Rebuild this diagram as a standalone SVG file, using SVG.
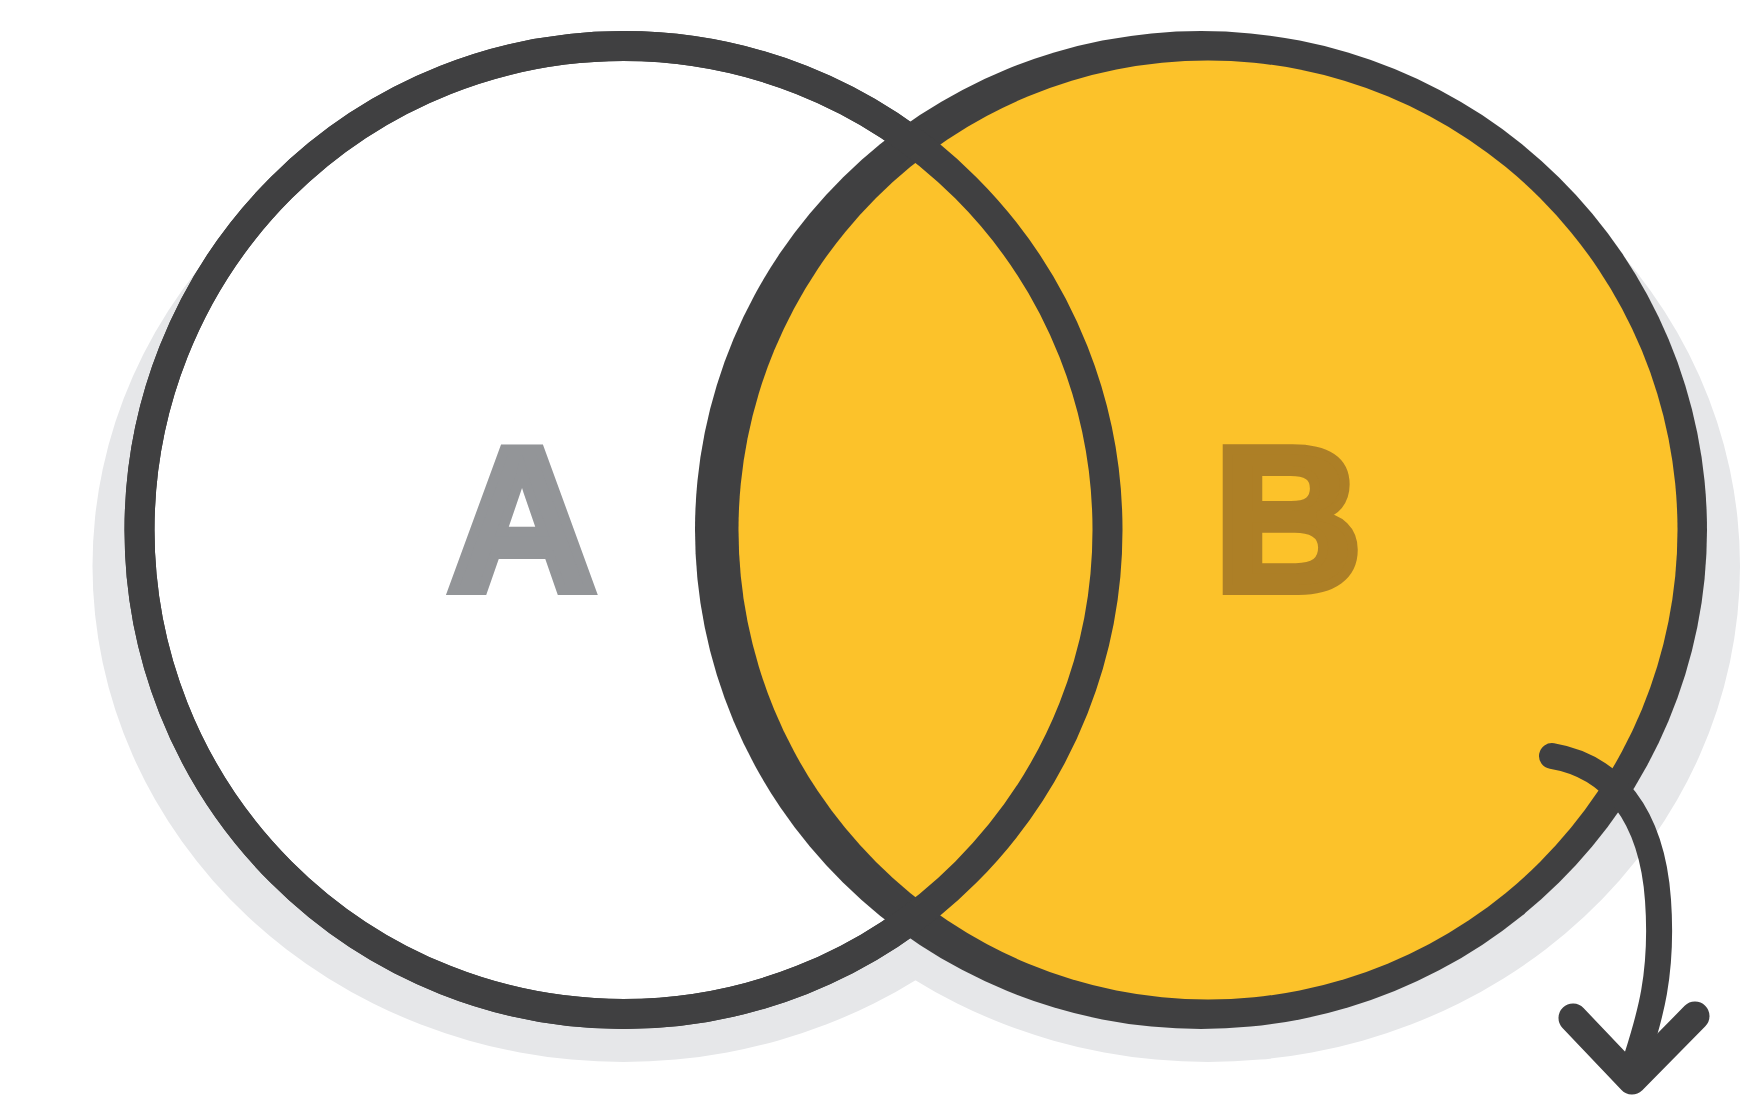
<svg xmlns="http://www.w3.org/2000/svg" width="1760" height="1106" viewBox="0 0 1760 1106">
  <style>
    .shadow { fill: #e6e7e9; }
    .ring { fill: none; stroke: #404041; stroke-width: 30; }
    .label { font-family: "Liberation Sans", Arial, sans-serif; font-weight: bold; font-size: 205px; text-anchor: middle; stroke-width: 10; stroke-linejoin: miter; }
    .conn { fill: none; stroke: #404041; stroke-width: 26; stroke-linecap: round; stroke-linejoin: round; }
    .head { stroke-width: 29; }
  </style>
  <rect width="1760" height="1106" fill="#ffffff"/>
  <g id="shadows">
    <ellipse class="shadow" cx="623.5" cy="566" rx="531" ry="496"/>
    <ellipse class="shadow" cx="1208" cy="566" rx="532" ry="496"/>
  </g>
  <g id="node-a">
    <circle cx="623.5" cy="530" r="484" fill="#ffffff" stroke="#404041" stroke-width="30"/>
    <text class="label" x="522" y="590" fill="#939598" stroke="#939598">A</text>
  </g>
  <g id="node-b">
    <ellipse cx="1201" cy="530" rx="506" ry="499" fill="#404041"/>
    <circle cx="1208" cy="530" r="469.5" fill="#fcc22a"/>
    <text class="label" x="1288" y="590" fill="#ad7f26" stroke="#ad7f26">B</text>
  </g>
  <g id="node-a-outline">
    <circle class="ring" cx="623.5" cy="530" r="484"/>
  </g>
  <g id="connectors">
    <path class="conn" d="M1552,756 C1612,766 1652,815 1658,900 S1645,1030 1632,1073"/>
    <path class="conn head" d="M1573,1018 L1632,1080 L1695,1016"/>
  </g>
</svg>
